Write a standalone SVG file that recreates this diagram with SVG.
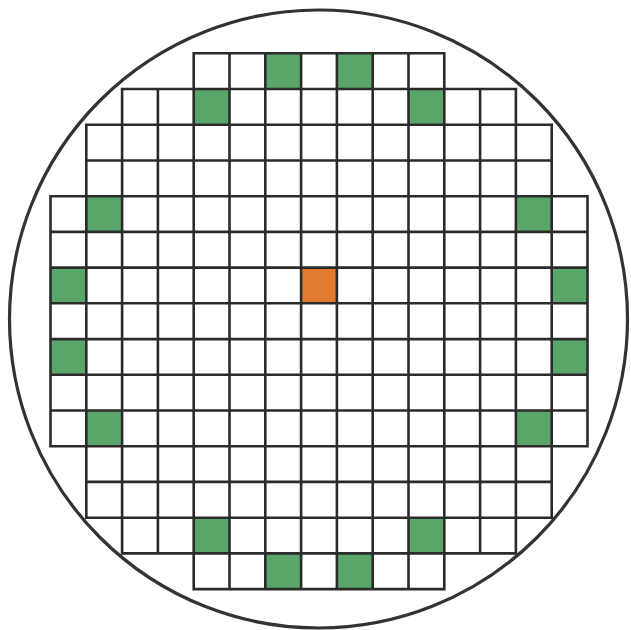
<svg xmlns="http://www.w3.org/2000/svg" width="631" height="630" viewBox="0 0 631 630">
  <style>
    .wafer { fill: #ffffff; stroke: #333333; stroke-width: 3.2; }
    .die-g { fill: #5aa66a; }
    .die-o { fill: #e07a2e; }
    .grid { fill: none; stroke: #2b2b2b; stroke-width: 2.6; stroke-linecap: square; }
  </style>
  <rect x="0" y="0" width="631" height="630" fill="#ffffff"/>
  <g id="wafer">
    <circle class="wafer" cx="318.5" cy="319" r="309"/>
  </g>
  <g id="marked-dies">
    <rect class="die-g" x="265.3" y="53.3" width="35.8" height="35.7"/>
    <rect class="die-g" x="336.9" y="53.3" width="35.8" height="35.7"/>
    <rect class="die-g" x="193.7" y="89.0" width="35.8" height="35.7"/>
    <rect class="die-g" x="408.5" y="89.0" width="35.8" height="35.7"/>
    <rect class="die-g" x="86.3" y="196.2" width="35.8" height="35.7"/>
    <rect class="die-g" x="515.9" y="196.2" width="35.8" height="35.7"/>
    <rect class="die-g" x="50.5" y="267.6" width="35.8" height="35.7"/>
    <rect class="die-g" x="551.7" y="267.6" width="35.8" height="35.7"/>
    <rect class="die-g" x="50.5" y="339.1" width="35.8" height="35.7"/>
    <rect class="die-g" x="551.7" y="339.1" width="35.8" height="35.7"/>
    <rect class="die-g" x="86.3" y="410.5" width="35.8" height="35.7"/>
    <rect class="die-g" x="515.9" y="410.5" width="35.8" height="35.7"/>
    <rect class="die-g" x="193.7" y="517.7" width="35.8" height="35.7"/>
    <rect class="die-g" x="408.5" y="517.7" width="35.8" height="35.7"/>
    <rect class="die-g" x="265.3" y="553.4" width="35.8" height="35.7"/>
    <rect class="die-g" x="336.9" y="553.4" width="35.8" height="35.7"/>
    <rect class="die-o" x="301.1" y="267.6" width="35.8" height="35.7"/>
  </g>
  <g id="die-grid">
    <path class="grid" d="
      M193.7 53.3 H444.3
      M122.1 89.0 H515.9
      M86.3 124.7 H551.7
      M86.3 160.5 H551.7
      M50.5 196.2 H587.5
      M50.5 231.9 H587.5
      M50.5 267.6 H587.5
      M50.5 303.3 H587.5
      M50.5 339.1 H587.5
      M50.5 374.8 H587.5
      M50.5 410.5 H587.5
      M50.5 446.2 H587.5
      M86.3 481.9 H551.7
      M86.3 517.7 H551.7
      M122.1 553.4 H515.9
      M193.7 589.1 H444.3
      M50.5 196.2 V446.2
      M86.3 124.7 V517.7
      M122.1 89.0 V553.4
      M157.9 89.0 V553.4
      M193.7 53.3 V589.1
      M229.5 53.3 V589.1
      M265.3 53.3 V589.1
      M301.1 53.3 V589.1
      M336.9 53.3 V589.1
      M372.7 53.3 V589.1
      M408.5 53.3 V589.1
      M444.3 53.3 V589.1
      M480.1 89.0 V553.4
      M515.9 89.0 V553.4
      M551.7 124.7 V517.7
      M587.5 196.2 V446.2"/>
  </g>
</svg>
